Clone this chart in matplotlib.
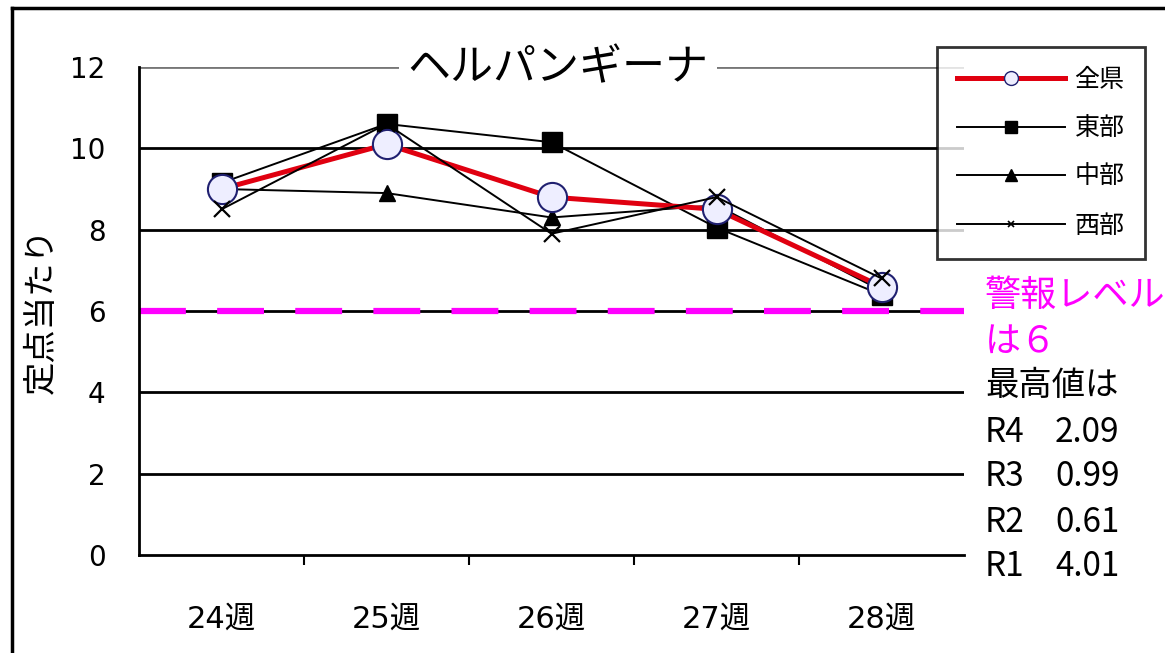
import matplotlib.pyplot as plt
from matplotlib.lines import Line2D

plt.rcParams['font.family'] = ['Noto Sans CJK JP', 'DejaVu Sans']

weeks = ['24週', '25週', '26週', '27週', '28週']
zenken = [9.0, 10.1, 8.8, 8.5, 6.6]
tobu = [9.15, 10.6, 10.15, 8.05, 6.4]
chubu = [9.0, 8.9, 8.3, 8.6, 6.5]
seibu = [8.5, 10.6, 7.9, 8.8, 6.8]
alert_level = 6
past_max = [('R4', '2.09'), ('R3', '0.99'), ('R2', '0.61'), ('R1', '4.01')]

W, H = 1165, 653
fig = plt.figure(figsize=(W / 100, H / 100), dpi=100)
ax = fig.add_axes([139 / W, 1 - 555 / H, 825 / W, 488 / H])

x = range(len(weeks))
ax.plot(x, tobu, color='black', lw=1.4, marker='s', ms=15, mfc='black', mec='black', label='東部', zorder=3)
ax.plot(x, chubu, color='black', lw=1.4, marker='^', ms=12, mfc='black', mec='black', label='中部', zorder=3)
ax.plot(x, zenken, color='#e00010', lw=3.6, marker='o', ms=21, mfc='#eeeeff', mec='#202070', mew=1.5,
        label='全県', zorder=4)
ax.plot(x, seibu, color='black', lw=1.4, marker='x', ms=12, mew=1.6, label='西部', zorder=5)

ax.axhline(alert_level, color='#ff00ff', lw=4.5, dashes=(7.5, 5), zorder=2, clip_on=False)

ax.set_xlim(-0.5, 4.5)
ax.set_ylim(0, 12)
ax.set_yticks(range(0, 13, 2))
ax.set_xticks(x)
ax.set_xticklabels(weeks, fontsize=22, family=['DejaVu Sans', 'Noto Sans CJK JP'])
ax.set_xticks([0.5, 1.5, 2.5, 3.5], minor=True)
ax.tick_params(axis='x', which='major', length=0, pad=36)
ax.tick_params(axis='x', which='minor', length=7, width=1.5, direction='out')
ax.tick_params(axis='y', length=0, pad=24, labelsize=20)
for t in ax.get_yticklabels():
    t.set_family('DejaVu Sans')
for yv in range(2, 13, 2):
    ax.axhline(yv, color='black' if yv < 12 else '#777777', lw=2, zorder=1)
for s in ['top', 'right']:
    ax.spines[s].set_visible(False)
for s in ['left', 'bottom']:
    ax.spines[s].set_linewidth(2)

ax.set_ylabel('定点当たり', fontsize=24, labelpad=8)

fig.text(558 / W, 1 - 68 / H, 'ヘルパンギーナ', fontsize=31, ha='center', va='center',
         bbox=dict(facecolor='white', edgecolor='none', pad=6), zorder=10)

# legend in a plain square box
labels = ['全県', '東部', '中部', '西部']
leg_handles = [
    Line2D([], [], color='#e00010', lw=3.6, marker='o', ms=10, mfc='#eeeeff', mec='#202070'),
    Line2D([], [], color='black', lw=1.4, marker='s', ms=9, mfc='black'),
    Line2D([], [], color='black', lw=1.4, marker='^', ms=8, mfc='black'),
    Line2D([], [], color='black', lw=1.4, marker='x', ms=4, mew=1.2),
]
leg = fig.legend(leg_handles, labels, loc='upper left',
                 bbox_to_anchor=(937 / W, 1 - 47 / H), fontsize=18, frameon=True,
                 fancybox=False, edgecolor='black', handlelength=4.3, labelspacing=0.9,
                 borderpad=0.8, handletextpad=0.4, borderaxespad=0)
leg.get_frame().set_linewidth(2)

# notes on the right
full_width = str.maketrans('0123456789', '０１２３４５６７８９')
fig.text(985 / W, 1 - 296 / H, '警報レベル', fontsize=26, color='#ff00ff', va='center')
fig.text(985 / W, 1 - 342 / H, f'は{alert_level}'.translate(full_width), fontsize=26, color='#ff00ff',
         va='center')
fig.text(985 / W, 1 - 386 / H, '最高値は', fontsize=24, color='black', va='center')
for i, (yr, val) in enumerate(past_max):
    fig.text(985 / W, 1 - (432 + i * 45) / H, yr, fontsize=24, va='center')
    fig.text(1055 / W, 1 - (432 + i * 45) / H, val, fontsize=24, va='center')

# outer frame
fig.add_artist(Line2D([12 / W, 1], [1 - 8 / H, 1 - 8 / H], color='black', lw=2.5))
fig.add_artist(Line2D([12 / W, 12 / W], [0, 1 - 8 / H], color='black', lw=2.5))

fig.savefig('out.png', dpi=100)
